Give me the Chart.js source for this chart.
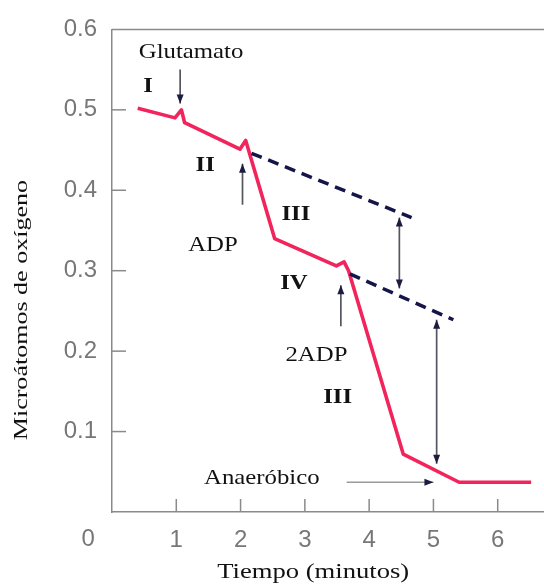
<!DOCTYPE html>
<html><head><meta charset="utf-8">
<script src="https://cdn.jsdelivr.net/npm/chart.js@4.4.1/dist/chart.umd.min.js"></script>
<style>html,body{margin:0;padding:0;background:#fff;overflow:hidden}#wrap{width:544px;height:585px}</style>
</head><body>
<div id="wrap"><canvas id="c" width="544" height="585"></canvas></div>
<script>
// ---- data ----
const xTickValues = [0, 1, 2, 3, 4, 5, 6];
const yTickValues = [0.1, 0.2, 0.3, 0.4, 0.5, 0.6];
const xTitle = "Tiempo (minutos)";
const yTitle = "Microátomos de oxígeno";

const redTime   = [0.40, 0.98, 1.08, 1.13, 1.99, 2.08, 2.53, 3.49, 3.61, 3.68, 4.53, 5.40, 6.52];
const redOxygen = [0.502, 0.490, 0.500, 0.484, 0.451, 0.462, 0.340, 0.306, 0.311, 0.300, 0.072, 0.037, 0.037];

const dash1Time = [2.17, 4.66];
const dash1Oxygen = [0.446, 0.366];
const dash2Time = [3.70, 5.31];
const dash2Oxygen = [0.296, 0.239];

const arrowX1 = [1.06, 2.03, 4.47, 3.56, 5.05, 3.65];
const arrowY1 = [0.550, 0.382, 0.366, 0.231, 0.239, 0.037];
const arrowX2 = [1.06, 2.03, 4.47, 3.56, 5.05, 5.00];
const arrowY2 = [0.508, 0.433, 0.278, 0.282, 0.060, 0.037];
const arrowBoth = [false, false, true, false, true, false];

const labelTexts = ["Glutamato", "I", "II", "III", "ADP", "IV", "2ADP", "III", "Anaeróbico"];
const labelX     = [1.23, 0.56, 1.45, 2.86, 1.57, 2.83, 3.18, 3.51, 2.33];
const labelY     = [0.571, 0.529, 0.431, 0.370, 0.331, 0.284, 0.195, 0.142, 0.042];
const labelBold  = [false, true, true, true, false, true, false, true, false];

const pts = (xs, ys) => xs.map((x, i) => ({x: x, y: ys[i]}));

const overlay = {
  id: 'overlay',
  afterDatasetsDraw(chart) {
    const ctx = chart.ctx, xs = chart.scales.x, ys = chart.scales.y;
    const P = (x, y) => [xs.getPixelForValue(x), ys.getPixelForValue(y)];
    ctx.save();
    // top frame line
    ctx.strokeStyle = '#8a8a8a'; ctx.lineWidth = 1.5;
    ctx.beginPath();
    ctx.moveTo(xs.left, ys.top); ctx.lineTo(xs.right, ys.top); ctx.stroke();
    // inward ticks
    xTickValues.slice(1).forEach(v => {
      const px = xs.getPixelForValue(v);
      ctx.beginPath(); ctx.moveTo(px, ys.bottom); ctx.lineTo(px, ys.bottom - 13); ctx.stroke();
    });
    yTickValues.slice(0, -1).forEach(v => {
      const py = ys.getPixelForValue(v);
      ctx.beginPath(); ctx.moveTo(xs.left, py); ctx.lineTo(xs.left + 14, py); ctx.stroke();
    });
    // arrows
    const head = (fx, fy, tx, ty) => {
      const a = Math.atan2(ty - fy, tx - fx), L = 9, W = 3.5;
      ctx.beginPath();
      ctx.moveTo(tx, ty);
      ctx.lineTo(tx - L * Math.cos(a) + W * Math.sin(a), ty - L * Math.sin(a) - W * Math.cos(a));
      ctx.lineTo(tx - L * Math.cos(a) - W * Math.sin(a), ty - L * Math.sin(a) + W * Math.cos(a));
      ctx.closePath(); ctx.fill();
    };
    arrowX1.forEach((x1, i) => {
      const [ax, ay] = P(x1, arrowY1[i]);
      const [bx, by] = P(arrowX2[i], arrowY2[i]);
      ctx.strokeStyle = i === 5 ? '#9a9a9a' : '#55555f';
      ctx.lineWidth = 1.7;
      ctx.beginPath(); ctx.moveTo(ax, ay); ctx.lineTo(bx, by); ctx.stroke();
      ctx.fillStyle = '#1c1c40';
      head(ax, ay, bx, by);
      if (arrowBoth[i]) head(bx, by, ax, ay);
    });
    // annotation texts
    ctx.fillStyle = '#111';
    ctx.textAlign = 'center'; ctx.textBaseline = 'middle';
    labelTexts.forEach((t, i) => {
      const [px, py] = P(labelX[i], labelY[i]);
      ctx.font = (labelBold[i] ? 'bold ' : '') + '21px "Liberation Serif", serif';
      ctx.save(); ctx.translate(px, py); ctx.scale(1.18, 1); ctx.fillText(t, 0, 0); ctx.restore();
    });
    // origin label "0"
    ctx.font = '24px "Liberation Sans", Arial, sans-serif';
    ctx.fillStyle = '#777';
    ctx.textBaseline = 'top';
    ctx.fillText(String(xTickValues[0]), xs.getPixelForValue(-0.37), ys.bottom + 15);
    // axis titles
    ctx.fillStyle = '#111';
    ctx.textBaseline = 'middle';
    ctx.font = '22px "Liberation Serif", serif';
    ctx.save(); ctx.translate(xs.getPixelForValue(3.13), 572); ctx.scale(1.21, 1); ctx.fillText(xTitle, 0, 0); ctx.restore();
    ctx.font = '19px "Liberation Serif", serif';
    ctx.save(); ctx.translate(22, ys.getPixelForValue(0.251)); ctx.rotate(-Math.PI / 2); ctx.scale(1.37, 1); ctx.fillText(yTitle, 0, 0); ctx.restore();
    ctx.restore();
  }
};

new Chart(document.getElementById('c'), {
  type: 'scatter',
  data: {
    datasets: [
      {data: pts(dash1Time, dash1Oxygen), showLine: true, borderColor: '#15154a', borderWidth: 3.5, borderDash: [11, 7], pointRadius: 0, fill: false},
      {data: pts(dash2Time, dash2Oxygen), showLine: true, borderColor: '#15154a', borderWidth: 3.5, borderDash: [11, 7], pointRadius: 0, fill: false},
      {data: pts(redTime, redOxygen), showLine: true, borderColor: '#f2245c', borderWidth: 3.6, pointRadius: 0, fill: false, borderJoinStyle: 'round'}
    ]
  },
  options: {
    responsive: false,
    animation: false,
    layout: {padding: {top: 22, right: 0, left: 0, bottom: 0}},
    plugins: {legend: {display: false}, tooltip: {enabled: false}},
    scales: {
      x: {
        type: 'linear', min: 0, max: 6.72,
        afterBuildTicks: s => { s.ticks = xTickValues.map(v => ({value: v})); },
        afterFit: s => { s.height = 73; },
        grid: {display: true, drawOnChartArea: false, drawTicks: false},
        border: {display: true, color: '#8a8a8a', width: 1.5},
        ticks: {autoSkip: false, maxRotation: 0, padding: 14, color: '#777',
          font: {family: '"Liberation Sans", Arial, sans-serif', size: 24},
          callback: v => v === 0 ? '' : String(v)}
      },
      y: {
        type: 'linear', min: 0, max: 0.6,
        afterBuildTicks: s => { s.ticks = yTickValues.map(v => ({value: v})); },
        afterFit: s => { s.width = 112; },
        grid: {display: true, drawOnChartArea: false, drawTicks: false},
        border: {display: true, color: '#8a8a8a', width: 1.5},
        ticks: {autoSkip: false, padding: 15, color: '#777',
          font: {family: '"Liberation Sans", Arial, sans-serif', size: 24},
          callback: v => Number(v).toFixed(1)}
      }
    }
  },
  plugins: [overlay]
});
</script>
</body></html>
